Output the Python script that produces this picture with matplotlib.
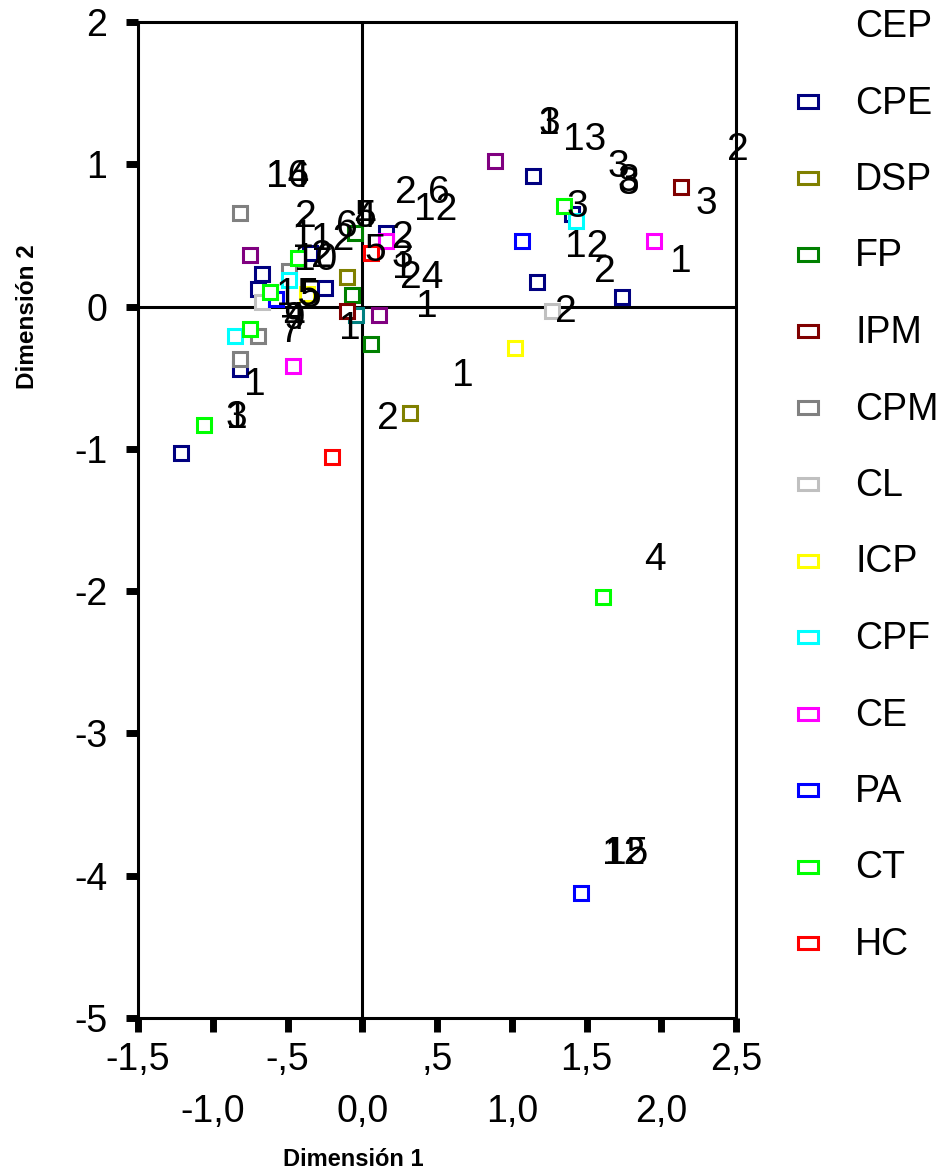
import matplotlib
matplotlib.use('Agg')
import matplotlib.pyplot as plt
from matplotlib.patches import Rectangle

plt.rcParams['font.family'] = ['Liberation Sans', 'DejaVu Sans']

# categorias (columna) y colores del grafico de SPSS
cats = ['CEP', 'CPE', 'DSP', 'FP', 'IPM', 'CPM', 'CL', 'ICP', 'CPF', 'CE', 'PA', 'CT', 'HC']
colors = ['#800080', '#000080', '#808000', '#008000', '#800000', '#808080', '#c0c0c0',
          '#ffff00', '#00ffff', '#ff00ff', '#0000ff', '#00ff00', '#ff0000']

# puntos de columna (cuadrados)
pt_cat = ['CEP', 'CEP', 'CEP',
          'CPE', 'CPE', 'CPE', 'CPE', 'CPE', 'CPE', 'CPE', 'CPE', 'CPE', 'CPE', 'CPE',
          'DSP', 'DSP', 'FP', 'FP', 'FP', 'IPM', 'IPM',
          'CPM', 'CPM', 'CPM', 'CPM', 'CL', 'CL', 'ICP', 'ICP',
          'CPF', 'CPF', 'CPF', 'CE', 'CE', 'CE', 'PA', 'PA', 'PA',
          'CT', 'CT', 'CT', 'CT', 'CT', 'CT', 'HC', 'HC']
pt_x = [-0.75, 0.11, 0.89,
        -0.67, -0.70, -0.35, -0.25, 0.16, 1.14, 1.40, 1.17, 1.74, -0.82, -1.21,
        -0.10, 0.32, -0.07, -0.05, 0.06, -0.10, 2.13,
        -0.82, -0.49, -0.70, -0.82, -0.67, 1.27, -0.37, 1.02,
        -0.49, -0.85, 1.43, 0.16, -0.46, 1.95, -0.58, 1.07, 1.46,
        -0.62, -0.43, -0.75, -1.06, 1.35, 1.61, 0.06, -0.20]
pt_y = [0.36, -0.06, 1.02,
        0.23, 0.12, 0.38, 0.13, 0.52, 0.92, 0.65, 0.17, 0.07, -0.44, -1.03,
        0.21, -0.75, 0.08, 0.52, -0.26, -0.03, 0.84,
        0.66, 0.25, -0.21, -0.37, 0.03, -0.03, 0.09, -0.29,
        0.19, -0.21, 0.60, 0.46, -0.42, 0.46, 0.05, 0.46, -4.12,
        0.10, 0.34, -0.16, -0.83, 0.71, -2.04, 0.38, -1.06]

# punto sin leyenda (verde azulado, casi oculto)
extra_x = [-0.04]
extra_y = [-0.06]

# puntos de fila (solo etiqueta)
lab_txt = ['3', '1', '13', '3', '3', '8', '2', '3', '3', '12', '1', '2', '2', '1', '2', '4',
           '12', '15', '1', '3', '1', '1', '4', '9', '7', '1', '16', '14', '2', '1', '12',
           '6', '4', '5', '10', '2', '15', '5', '2', '6', '12', '2', '5', '3', '1', '24']
lab_x = [1.25, 1.25, 1.49, 1.71, 1.78, 1.78, 2.51, 2.30, 1.44, 1.50, 2.13, 1.62, 1.36, 0.67, 0.17, 1.96,
         1.75, 1.77, -0.72, -0.84, -0.84, -0.08, -0.46, -0.46, -0.48, 0.43, -0.50, -0.50, -0.38, -0.40, -0.20,
         -0.10, 0.02, 0.02, -0.31, -0.27, -0.43, -0.35, 0.29, 0.51, 0.49, 0.27, 0.09, 0.27, 0.27, 0.40]
lab_y = [1.28, 1.28, 1.17, 0.98, 0.88, 0.86, 1.10, 0.72, 0.70, 0.42, 0.31, 0.24, -0.04, -0.49, -0.79, -1.78,
         -3.85, -3.85, -0.55, -0.78, -0.78, -0.16, -0.09, -0.09, -0.18, 0.0, 0.91, 0.91, 0.63, 0.49, 0.47,
         0.56, 0.63, 0.63, 0.33, 0.35, 0.08, 0.07, 0.80, 0.80, 0.68, 0.48, 0.39, 0.35, 0.27, 0.20]

xticks_odd = [-1.5, -0.5, 0.5, 1.5, 2.5]
xlabels_odd = ['-1,5', '-,5', ',5', '1,5', '2,5']
xticks_even = [-1.0, 0.0, 1.0, 2.0]
xlabels_even = ['-1,0', '0,0', '1,0', '2,0']
yticks = [2, 1, 0, -1, -2, -3, -4, -5]
ylabels = ['2', '1', '0', '-1', '-2', '-3', '-4', '-5']

fig = plt.figure(figsize=(9.47, 11.72), dpi=100)
ax = fig.add_axes([138/947, 1-1018/1172, 598/947, 996/1172])

ax.axhline(0, color='black', lw=2.2, zorder=1)
ax.axvline(0, color='black', lw=2.2, zorder=1)

ax.plot(extra_x, extra_y, 's', ms=10, mfc='white', mec='#008080', mew=2.2, zorder=2)
for c, col in zip(cats, colors):
    xs = [x for k, x in zip(pt_cat, pt_x) if k == c]
    ys = [y for k, y in zip(pt_cat, pt_y) if k == c]
    ax.plot(xs, ys, 's', ms=10, mfc='white', mec=col, mew=2.2, zorder=2)

for t, x, y in zip(lab_txt, lab_x, lab_y):
    ax.text(x, y, t, fontsize=28, ha='center', va='center', zorder=3)

ax.set_xlim(-1.5, 2.5)
ax.set_ylim(-5, 2)
for s in ax.spines.values():
    s.set_linewidth(2.2)

ax.set_xticks(xticks_odd)
ax.set_xticklabels(xlabels_odd)
ax.set_xticks(xticks_even, minor=True)
ax.set_xticklabels(xlabels_even, minor=True)
ax.set_yticks(yticks)
ax.set_yticklabels(ylabels)
ax.tick_params(axis='x', which='both', direction='out', length=10, width=5, labelsize=27)
ax.tick_params(axis='x', which='major', pad=7)
ax.tick_params(axis='x', which='minor', pad=45)
ax.tick_params(axis='y', direction='out', length=9, width=5, labelsize=27, pad=13)

fig.text(353/947, 1-1159/1172, 'Dimensión 1', fontsize=17, fontweight='bold',
         ha='center', va='center')
fig.text(28/947, 1-317/1172, 'Dimensión 2', fontsize=17.5, fontweight='bold', rotation=90,
         ha='center', va='center', family=['Liberation Sans Narrow', 'Liberation Sans'])

# leyenda a mano (en el original CEP no tiene marcador)
for i, (c, col) in enumerate(zip(cats, colors)):
    yc = 1 - (27 + 76.5*i)/1172
    fig.text(855/947, yc, c, fontsize=27, ha='left', va='center')
    if c != 'CEP':
        fig.add_artist(Rectangle((798/947, yc - 4/1172), 20/947, 12/1172, transform=fig.transFigure,
                                 facecolor='white', edgecolor=col, lw=2.2))

fig.savefig('out.png', dpi=100)
